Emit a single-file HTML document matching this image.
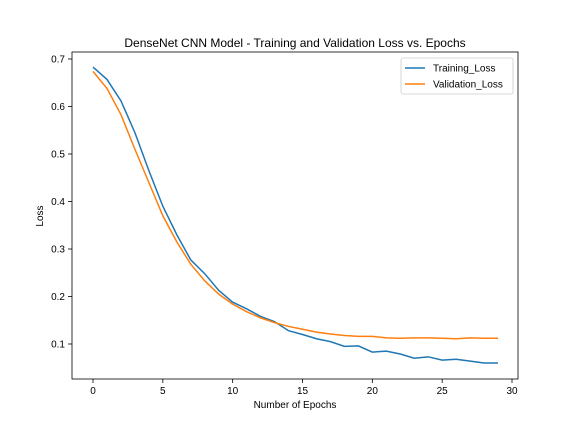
<!DOCTYPE html>
<html><head><meta charset="utf-8"><style>
body{margin:0;background:#fff}
svg{font-family:"Liberation Sans","DejaVu Sans",sans-serif;display:block}
</style></head><body>
<svg id="chart" width="576" height="432">
<rect width="576" height="432" fill="#fff"/>
<text x="295" y="47" text-anchor="middle" font-size="12">DenseNet CNN Model - Training and Validation Loss vs. Epochs</text>
<g id="plot"></g>
<text x="295" y="408" text-anchor="middle" font-size="10">Number of Epochs</text>
<text transform="translate(43,216) rotate(-90)" text-anchor="middle" font-size="10">Loss</text>
</svg>
<script>
const epochs=[0,1,2,3,4,5,6,7,8,9,10,11,12,13,14,15,16,17,18,19,20,21,22,23,24,25,26,27,28,29];
const trainLoss=[0.683,0.657,0.612,0.545,0.465,0.39,0.33,0.277,0.248,0.213,0.188,0.174,0.158,0.147,0.128,0.12,0.111,0.105,0.095,0.096,0.083,0.085,0.079,0.07,0.073,0.066,0.068,0.064,0.06,0.06];
const valLoss=[0.674,0.638,0.583,0.51,0.44,0.37,0.315,0.268,0.233,0.205,0.184,0.168,0.155,0.145,0.137,0.131,0.125,0.121,0.118,0.116,0.116,0.113,0.112,0.113,0.113,0.112,0.111,0.113,0.112,0.112];
const xTicks=[0,5,10,15,20,25,30];
const yTicks=[0.1,0.2,0.3,0.4,0.5,0.6,0.7];
const seriesNames=["Training_Loss","Validation_Loss"];

const L=72,R=518,T=52,B=379;
const xs=v=>93+v*(512-93)/30;
const ys=v=>344-(v-0.1)*475;
const NS="http://www.w3.org/2000/svg";
const g=document.getElementById('plot');
function mk(t,a){const e=document.createElementNS(NS,t);for(const k in a)e.setAttribute(k,a[k]);g.appendChild(e);return e;}
xTicks.forEach(t=>{
  const x=xs(t);
  const l=mk('line',{x1:x,x2:x,y1:B,y2:B+4,stroke:'#000','stroke-width':0.8});
  
  
  const tx=mk('text',{x:x,y:B+15,'text-anchor':'middle','font-size':10});
  tx.textContent=t;
  
  
});
yTicks.forEach(t=>{
  const y=ys(t);
  const l=mk('line',{x1:L-4,x2:L,y1:y,y2:y,stroke:'#000','stroke-width':0.8});
  
  
  const tx=mk('text',{x:L-7,y:y+3.5,'text-anchor':'end','font-size':10});
  tx.textContent=t.toFixed(1);
  
  
});
const colors=['#1f77b4','#ff7f0e'];
[trainLoss,valLoss].forEach((s,i)=>{
  const p=mk('polyline',{points:s.map((v,j)=>xs(epochs[j])+','+ys(v)).join(' '),fill:'none',stroke:colors[i],'stroke-width':1.5});
  
  
});
const frame=mk('rect',{x:L,y:T,width:R-L,height:B-T,fill:'none',stroke:'#000','stroke-width':0.8});


const lg=mk('rect',{x:401,y:58,width:112,height:36,rx:2,fill:'#fff',stroke:'#ccc','stroke-width':0.8});


seriesNames.forEach((n,i)=>{
  const y=68+i*16;
  const l=mk('line',{x1:405,x2:425,y1:y,y2:y,stroke:colors[i],'stroke-width':1.5});
  
  
  const t=mk('text',{x:433,y:y+3.5,'font-size':10});
  t.textContent=n;
  
  
});
</script>
</body></html>
